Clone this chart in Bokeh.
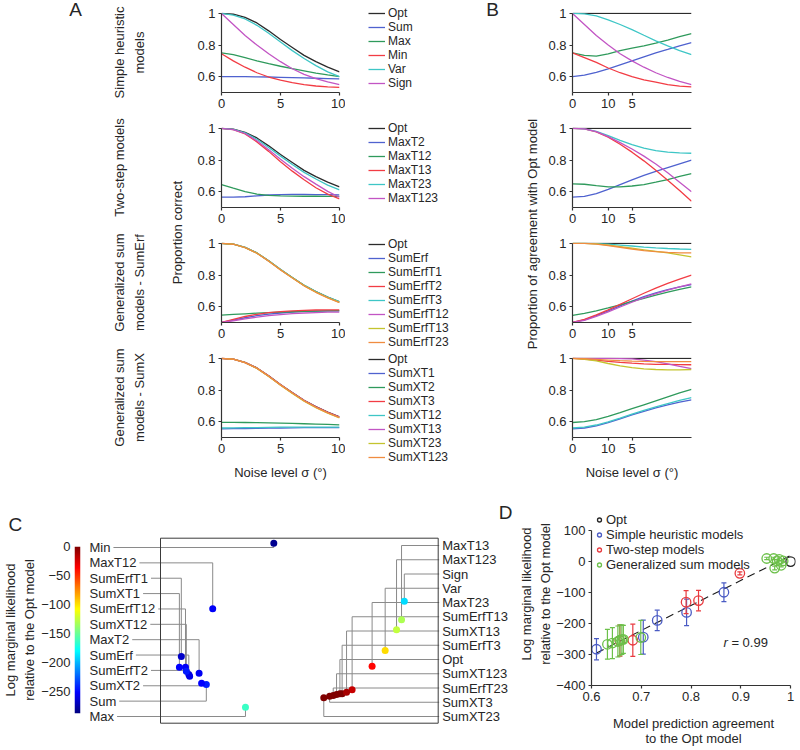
import numpy as np
from bokeh.plotting import figure
from bokeh.layouts import row, column
from bokeh.models import (Range1d, FixedTicker, Legend, LegendItem, ColumnDataSource,
                          LinearColorMapper, Label, BoxAnnotation)
from bokeh.core.properties import value
from bokeh.embed import file_html
from bokeh.resources import INLINE

FONT = "Liberation Sans"
INK = "#262626"
AXC = "#333333"

# ---------------------------------------------------------------- data
NOISE = [0, 1, 2, 3, 4, 5, 6, 7, 8, 9, 10]
Y_TICKS = [0.6, 0.8, 1]
Y_TICK_LABELS = ["0.6", "0.8", "1"]
A_XTICKS = [0, 5, 10]
A_XTICK_LABELS = ["0", "5", "10"]
B_XTICKS = [0, 3, 5]
B_XTICK_LABELS = ["0", "10", "5"]

GROUP_TITLES = ["Simple heuristic\nmodels", "Two-step models",
                "Generalized sum\nmodels - SumErf", "Generalized sum\nmodels - SumX"]
LINE_COLORS = ["#2b2b2b", "#4f62cf", "#2f9a5c", "#f23c44", "#3ec6c6", "#c255c4", "#c4c42e", "#f08c40"]

# proportion correct (panel A)
PC_SIMPLE = {
    "Opt":  [1.000, 0.995, 0.975, 0.940, 0.890, 0.835, 0.785, 0.735, 0.695, 0.660, 0.630],
    "Sum":  [0.600, 0.600, 0.600, 0.599, 0.598, 0.596, 0.594, 0.592, 0.590, 0.588, 0.586],
    "Max":  [0.750, 0.740, 0.720, 0.700, 0.682, 0.666, 0.651, 0.637, 0.623, 0.611, 0.600],
    "Min":  [0.745, 0.700, 0.660, 0.625, 0.598, 0.578, 0.562, 0.550, 0.541, 0.535, 0.532],
    "Var":  [1.000, 0.990, 0.965, 0.925, 0.875, 0.820, 0.765, 0.715, 0.670, 0.630, 0.600],
    "Sign": [1.000, 0.930, 0.860, 0.800, 0.745, 0.695, 0.650, 0.615, 0.588, 0.567, 0.550],
}
PC_TWOSTEP = {
    "Opt":     [1.000, 0.995, 0.975, 0.940, 0.890, 0.835, 0.785, 0.735, 0.695, 0.660, 0.630],
    "MaxT2":   [0.565, 0.565, 0.568, 0.574, 0.579, 0.582, 0.583, 0.583, 0.582, 0.581, 0.580],
    "MaxT12":  [0.645, 0.622, 0.600, 0.585, 0.577, 0.574, 0.572, 0.571, 0.571, 0.570, 0.570],
    "MaxT13":  [1.000, 0.993, 0.965, 0.915, 0.855, 0.790, 0.730, 0.675, 0.625, 0.585, 0.555],
    "MaxT23":  [1.000, 0.994, 0.972, 0.932, 0.880, 0.825, 0.772, 0.722, 0.680, 0.642, 0.612],
    "MaxT123": [1.000, 0.993, 0.968, 0.922, 0.865, 0.805, 0.748, 0.695, 0.648, 0.602, 0.565],
}
PC_SUMERF = {
    "Opt":       [1.000, 0.995, 0.975, 0.940, 0.890, 0.835, 0.785, 0.735, 0.695, 0.660, 0.630],
    "SumErf":    [0.500, 0.515, 0.530, 0.543, 0.553, 0.560, 0.566, 0.570, 0.572, 0.573, 0.573],
    "SumErfT1":  [0.547, 0.551, 0.555, 0.559, 0.562, 0.565, 0.568, 0.570, 0.572, 0.574, 0.575],
    "SumErfT2":  [0.500, 0.520, 0.538, 0.552, 0.562, 0.569, 0.574, 0.577, 0.579, 0.580, 0.580],
    "SumErfT3":  [1.000, 0.995, 0.975, 0.940, 0.890, 0.836, 0.785, 0.736, 0.696, 0.661, 0.632],
    "SumErfT12": [0.500, 0.511, 0.523, 0.534, 0.543, 0.550, 0.556, 0.560, 0.563, 0.565, 0.566],
    "SumErfT13": [1.000, 0.995, 0.974, 0.939, 0.889, 0.834, 0.783, 0.733, 0.692, 0.657, 0.627],
    "SumErfT23": [1.000, 0.995, 0.974, 0.938, 0.888, 0.833, 0.782, 0.732, 0.691, 0.656, 0.626],
}
PC_SUMX = {
    "Opt":      [1.000, 0.995, 0.975, 0.940, 0.890, 0.835, 0.785, 0.735, 0.695, 0.660, 0.630],
    "SumXT1":   [0.555, 0.556, 0.557, 0.558, 0.559, 0.560, 0.561, 0.562, 0.562, 0.563, 0.563],
    "SumXT2":   [0.596, 0.596, 0.595, 0.594, 0.593, 0.591, 0.589, 0.587, 0.585, 0.583, 0.580],
    "SumXT3":   [1.000, 0.995, 0.974, 0.939, 0.889, 0.834, 0.783, 0.734, 0.694, 0.659, 0.629],
    "SumXT12":  [0.560, 0.561, 0.562, 0.563, 0.564, 0.565, 0.565, 0.566, 0.566, 0.566, 0.566],
    "SumXT13":  [1.000, 0.995, 0.974, 0.938, 0.888, 0.833, 0.782, 0.733, 0.693, 0.658, 0.628],
    "SumXT23":  [1.000, 0.995, 0.973, 0.937, 0.886, 0.831, 0.779, 0.730, 0.689, 0.654, 0.624],
    "SumXT123": [1.000, 0.995, 0.974, 0.938, 0.888, 0.833, 0.781, 0.732, 0.691, 0.656, 0.626],
}

# proportion of agreement with Opt (panel B)
AG_SIMPLE = {
    "Opt":  [1.000, 1.000, 1.000, 1.000, 1.000, 1.000, 1.000, 1.000, 1.000, 1.000, 1.000],
    "Sum":  [0.600, 0.610, 0.628, 0.650, 0.675, 0.700, 0.725, 0.750, 0.772, 0.795, 0.815],
    "Max":  [0.750, 0.735, 0.730, 0.745, 0.765, 0.780, 0.795, 0.812, 0.832, 0.853, 0.873],
    "Min":  [0.750, 0.720, 0.690, 0.655, 0.625, 0.600, 0.580, 0.565, 0.550, 0.540, 0.535],
    "Var":  [1.000, 0.997, 0.985, 0.960, 0.930, 0.898, 0.862, 0.827, 0.795, 0.765, 0.740],
    "Sign": [1.000, 0.930, 0.860, 0.800, 0.745, 0.700, 0.660, 0.625, 0.595, 0.570, 0.550],
}
AG_TWOSTEP = {
    "Opt":     [1.000, 1.000, 1.000, 1.000, 1.000, 1.000, 1.000, 1.000, 1.000, 1.000, 1.000],
    "MaxT2":   [0.565, 0.570, 0.588, 0.615, 0.645, 0.675, 0.703, 0.728, 0.752, 0.776, 0.800],
    "MaxT12":  [0.650, 0.647, 0.638, 0.630, 0.630, 0.636, 0.645, 0.660, 0.677, 0.697, 0.715],
    "MaxT13":  [1.000, 0.997, 0.978, 0.945, 0.900, 0.850, 0.795, 0.735, 0.672, 0.607, 0.540],
    "MaxT23":  [1.000, 0.997, 0.982, 0.955, 0.925, 0.898, 0.875, 0.860, 0.850, 0.845, 0.843],
    "MaxT123": [1.000, 0.997, 0.980, 0.948, 0.910, 0.870, 0.825, 0.775, 0.720, 0.660, 0.600],
}
AG_SUMERF = {
    "Opt":       [1.000, 1.000, 1.000, 1.000, 1.000, 1.000, 1.000, 1.000, 1.000, 1.000, 1.000],
    "SumErf":    [0.500, 0.517, 0.543, 0.573, 0.605, 0.635, 0.663, 0.688, 0.708, 0.725, 0.740],
    "SumErfT1":  [0.545, 0.558, 0.573, 0.592, 0.612, 0.633, 0.653, 0.673, 0.692, 0.709, 0.725],
    "SumErfT2":  [0.500, 0.520, 0.548, 0.580, 0.615, 0.650, 0.685, 0.718, 0.748, 0.775, 0.800],
    "SumErfT3":  [1.000, 1.000, 0.999, 0.996, 0.990, 0.984, 0.977, 0.972, 0.968, 0.965, 0.963],
    "SumErfT12": [0.500, 0.514, 0.538, 0.567, 0.598, 0.628, 0.657, 0.683, 0.705, 0.726, 0.745],
    "SumErfT13": [1.000, 1.000, 0.997, 0.990, 0.980, 0.970, 0.960, 0.950, 0.940, 0.928, 0.915],
    "SumErfT23": [1.000, 1.000, 0.996, 0.987, 0.976, 0.965, 0.955, 0.948, 0.943, 0.940, 0.940],
}
AG_SUMX = {
    "Opt":      [1.000, 1.000, 1.000, 1.000, 1.000, 1.000, 1.000, 1.000, 1.000, 1.000, 1.000],
    "SumXT1":   [0.555, 0.560, 0.574, 0.594, 0.618, 0.643, 0.666, 0.688, 0.707, 0.724, 0.738],
    "SumXT2":   [0.595, 0.600, 0.613, 0.633, 0.657, 0.682, 0.707, 0.732, 0.757, 0.782, 0.805],
    "SumXT3":   [1.000, 0.996, 0.990, 0.982, 0.975, 0.970, 0.966, 0.963, 0.962, 0.961, 0.960],
    "SumXT12":  [0.560, 0.565, 0.579, 0.599, 0.623, 0.648, 0.672, 0.694, 0.715, 0.735, 0.752],
    "SumXT13":  [1.000, 1.000, 1.000, 1.000, 0.999, 0.997, 0.990, 0.980, 0.966, 0.950, 0.935],
    "SumXT23":  [1.000, 0.995, 0.984, 0.968, 0.953, 0.942, 0.934, 0.930, 0.928, 0.928, 0.930],
    "SumXT123": [1.000, 0.998, 0.994, 0.990, 0.986, 0.983, 0.981, 0.980, 0.980, 0.980, 0.980],
}

# model table (panels C and D)
MODELS = ["Opt", "Sum", "Max", "Min", "Var", "Sign",
          "MaxT2", "MaxT12", "MaxT13", "MaxT23", "MaxT123",
          "SumErf", "SumErfT1", "SumErfT2", "SumErfT3", "SumErfT12", "SumErfT13", "SumErfT23",
          "SumXT1", "SumXT2", "SumXT3", "SumXT12", "SumXT13", "SumXT23", "SumXT123"]
MODEL_GROUP = ["O", "S", "S", "S", "S", "S",
               "T", "T", "T", "T", "T",
               "G", "G", "G", "G", "G", "G", "G",
               "G", "G", "G", "G", "G", "G", "G"]
AGREEMENT = [1.000, 0.704, 0.791, 0.610, 0.866, 0.732,
             0.657, 0.683, 0.790, 0.898, 0.815,
             0.642, 0.632, 0.653, 0.952, 0.657, 0.968, 0.977,
             0.661, 0.664, 0.985, 0.699, 0.981, 0.973, 0.966]
LOG_ML = [0, -244, -164, -283, -99, -190,
          -255, -254, -131, -38, -126,
          -263, -267, -258, 10, -254, -21, 7,
          -252, -251, 2, -245, -12, 2, 10]
LOG_ML_ERR = [0, 55, 43, 34, 30, 33,
              50, 52, 37, 5, 33,
              50, 48, 50, 4, 50, 6, 4,
              48, 45, 4, 55, 5, 4, 4]
EMBED_X = [64.6, 16.5, 30.6, 40.8, 80.9, 87.8,
           13.9, 18.8, 86.8, 76.2, 85.0,
           10.2, 7.5, 10.5, 65.4, 9.0, 69.0, 62.2,
           6.8, 14.8, 60.9, 9.3, 67.0, 58.8, 63.4]
EMBED_Y = [15.9, 20.9, 8.6, 97.3, 39.3, 65.9,
           27.0, 61.8, 55.9, 30.8, 50.5,
           26.3, 36.1, 25.4, 15.9, 30.2, 18.1, 15.0,
           30.2, 21.6, 14.6, 28.1, 16.7, 13.7, 15.5]
C_LEFT_ORDER = ["Min", "MaxT12", "SumErfT1", "SumXT1", "SumErfT12", "SumXT12", "MaxT2",
                "SumErf", "SumErfT2", "SumXT2", "Sum", "Max"]
C_RIGHT_ORDER = ["MaxT13", "MaxT123", "Sign", "Var", "MaxT23", "SumErfT13", "SumXT13",
                 "SumErfT3", "Opt", "SumXT123", "SumErfT23", "SumXT3", "SumXT23"]
CB_TICKS = [0, -50, -100, -150, -200, -250]
CB_TICK_LABELS = ["0", "\u221250", "\u2212100", "\u2212150", "\u2212200", "\u2212250"]
CB_LOW, CB_HIGH = -288, 0

D_GROUPS = ["O", "S", "T", "G"]
D_GROUP_LABELS = ["Opt", "Simple heuristic models", "Two-step models", "Generalized sum models"]
D_GROUP_COLORS = ["#262626", "#4a5bc4", "#e83a3f", "#6cc04a"]
D_XTICKS = [0.6, 0.7, 0.8, 0.9, 1]
D_XTICK_LABELS = ["0.6", "0.7", "0.8", "0.9", "1"]
D_YTICKS = [100, 0, -100, -200, -300, -400]
D_YTICK_LABELS = ["100", "0", "\u2212100", "\u2212200", "\u2212300", "\u2212400"]


# ---------------------------------------------------------------- helpers
def jet_hex(t):
    r = min(1.0, max(0.0, 1.5 - abs(4 * t - 3)))
    g = min(1.0, max(0.0, 1.5 - abs(4 * t - 2)))
    b = min(1.0, max(0.0, 1.5 - abs(4 * t - 1)))
    return "#%02x%02x%02x" % (round(r * 255), round(g * 255), round(b * 255))


JET = [jet_hex(i / 255) for i in range(256)]


def base_fig(width, height, x_range, y_range, bl=0, br=0, bt=0, bb=0, axes=True):
    kw = dict(width=width, height=height, x_range=x_range, y_range=y_range,
              output_backend="svg", toolbar_location=None,
              min_border_left=bl, min_border_right=br, min_border_top=bt, min_border_bottom=bb)
    if not axes:
        kw.update(x_axis_location=None, y_axis_location=None)
    p = figure(**kw)
    p.xgrid.visible = False
    p.ygrid.visible = False
    p.outline_line_color = None
    return p


def style_axis(ax, ticks, labels):
    ax.ticker = FixedTicker(ticks=ticks)
    ax.major_label_overrides = dict(zip(ticks, labels))
    ax.axis_line_color = AXC
    ax.axis_line_width = 1.2
    ax.major_tick_line_color = AXC
    ax.major_tick_line_width = 1.2
    ax.major_tick_out = 3
    ax.major_tick_in = 0
    ax.minor_tick_line_color = None
    ax.major_label_standoff = 3
    ax.major_label_text_font = FONT
    ax.major_label_text_font_size = "13px"
    ax.major_label_text_color = INK
    ax.axis_label_text_font = FONT
    ax.axis_label_text_font_size = "13px"
    ax.axis_label_text_color = INK
    ax.axis_label_text_font_style = "normal"
    ax.axis_label_text_line_height = 1.3


def add_text(p, x, y, text, size="13px", angle=0.0, align="center", baseline="middle",
             style="normal", line_height=1.3):
    p.text(x=[x], y=[y], text=[text], angle=angle, text_align=align, text_baseline=baseline,
           text_font=value(FONT), text_font_size=value(size), text_color=INK,
           text_font_style=style, text_line_height=line_height)


def make_legend(items, location, pitch, glyph_width, font_size):
    return Legend(items=items, location=location, orientation="vertical", spacing=0,
                  padding=0, margin=0, glyph_width=glyph_width, glyph_height=pitch,
                  label_height=pitch, label_standoff=3 if glyph_width > 12 else 2,
                  border_line_color=None, background_fill_alpha=0, label_text_font=FONT,
                  label_text_font_size=font_size, label_text_color=INK)


# ---------------------------------------------------------------- panels A & B
SUB_FH = 80
SUB_BT = [12, 8, 8, 8]
SUB_H = [119, 115, 115, 139]
TOP_H = sum(SUB_H)
LEGA_PITCH = 14.1      # effective row height of a 12px legend label
LEGD_PITCH = 15.3      # effective row height of a 13px legend label


def curve_panel(k, names, data, width, bl, br, xticks, xlabels):
    h = SUB_H[k]
    bt = SUB_BT[k]
    p = base_fig(width, h, Range1d(0, 10), Range1d(0.5, 1.006),
                 bl=bl, br=br, bt=bt, bb=h - bt - SUB_FH)
    style_axis(p.yaxis[0], Y_TICKS, Y_TICK_LABELS)
    style_axis(p.xaxis[0], xticks, xlabels)
    p.yaxis[0].bounds = (0.5, 1.0)
    p.xaxis[0].bounds = (0, 10)
    if k == 3:
        p.xaxis[0].axis_label = "Noise level \u03c3 (\u00b0)"
        p.xaxis[0].axis_label_standoff = 9
    for i, name in enumerate(names):
        p.line(NOISE, data[name], line_color=LINE_COLORS[i], line_width=1.3)
    return p


PC_SETS = [PC_SIMPLE, PC_TWOSTEP, PC_SUMERF, PC_SUMX]
AG_SETS = [AG_SIMPLE, AG_TWOSTEP, AG_SUMERF, AG_SUMX]

colA = column([curve_panel(k, list(PC_SETS[k].keys()), PC_SETS[k], 155, 31, 6,
                           A_XTICKS, A_XTICK_LABELS) for k in range(4)], spacing=0)
colB = column([curve_panel(k, list(AG_SETS[k].keys()), AG_SETS[k], 160, 31, 10,
                           B_XTICKS, B_XTICK_LABELS) for k in range(4)], spacing=0)

# legends of panel A (own canvas to the right of the A plots)
LEGA_W = 135
pLegA = base_fig(LEGA_W, TOP_H, Range1d(0, 1), Range1d(0, 1), axes=False)
top = 0
for k in range(4):
    names = list(PC_SETS[k].keys())
    items = []
    for i, name in enumerate(names):
        src = ColumnDataSource(dict(x=[np.nan], y=[np.nan]))
        r = pLegA.line("x", "y", source=src, line_color=LINE_COLORS[i], line_width=1.3)
        items.append(LegendItem(label=name, renderers=[r]))
    one_line = top + SUB_BT[k] + SUB_FH * (1.006 - 1.0) / 0.506
    leg_top = one_line - LEGA_PITCH / 2
    loc = (23, TOP_H - leg_top - LEGA_PITCH * len(items))
    pLegA.add_layout(make_legend(items, loc, 14, 17, "12px"))
    top += SUB_H[k]

LA_W, LB_W = 190, 61
pLA = base_fig(LA_W, TOP_H, Range1d(0, LA_W), Range1d(TOP_H, 0), axes=False)
add_text(pLA, 75, 9, "A", size="19px")
top = 0
for k, title in enumerate(GROUP_TITLES):
    yc = top + SUB_BT[k] + SUB_FH / 2
    top += SUB_H[k]
    add_text(pLA, 111.5, yc, title, angle=np.pi / 2, baseline="top")
add_text(pLA, 176.7, 232, "Proportion correct", angle=np.pi / 2)

pLB = base_fig(LB_W, TOP_H, Range1d(0, LB_W), Range1d(TOP_H, 0), axes=False)
add_text(pLB, 12, 9, "B", size="19px")
add_text(pLB, 52, 233.5, "Proportion of agreement with Opt model", angle=np.pi / 2)

top_row = row([column([pLA]), colA, column([pLegA]), column([pLB]), colB], spacing=0)

# ---------------------------------------------------------------- panel C (colour bar)
BOT_H = 261
mapper = LinearColorMapper(palette=JET, low=CB_LOW, high=CB_HIGH)
pCB = base_fig(84, BOT_H, Range1d(0, 1), Range1d(CB_LOW, CB_HIGH), bl=69, br=4, bt=58,
               bb=BOT_H - 58 - 167)
pCB.xaxis.visible = False
grad = np.linspace(CB_LOW, CB_HIGH, 256).reshape(-1, 1)
pCB.image(image=[grad], x=0, y=CB_LOW, dw=1, dh=CB_HIGH - CB_LOW, color_mapper=mapper)
style_axis(pCB.yaxis[0], CB_TICKS, CB_TICK_LABELS)
pCB.yaxis[0].axis_line_color = None
pCB.yaxis[0].major_tick_line_color = None
pCB.yaxis[0].major_tick_out = 0
pCB.yaxis[0].major_label_standoff = 4
pCB.yaxis[0].axis_label = "Log marginal likelihood\nrelative to the Opt model"
pCB.yaxis[0].axis_label_standoff = 1
pCB.yaxis[0].axis_label_text_line_height = 1.25
pCB.title.text = "C"
pCB.title.align = "left"
pCB.title.offset = -66
pCB.title.standoff = 23
pCB.title.text_font = FONT
pCB.title.text_font_size = "19px"
pCB.title.text_font_style = "normal"
pCB.title.text_color = INK

# ---------------------------------------------------------------- panel C (embedding)
C_W = 431
BOX_L, BOX_T, BOX_WPX, BOX_HPX = 76.0, 49.7, 277.7, 185.0
UX = BOX_WPX / 100.0
UY = BOX_HPX / 100.0


def cx(px):
    return (px - BOX_L) / UX


def cy(py):
    return (BOX_T + BOX_HPX - py) / UY


pC = base_fig(C_W, BOT_H, Range1d(cx(0), cx(C_W)), Range1d(cy(BOT_H), cy(0)), axes=False)
pC.add_layout(BoxAnnotation(left=0, right=100, bottom=0, top=100, fill_color=None,
                            line_color="#3a3a3a", line_width=1, line_alpha=1))

CHAR_W = {'M': 833, 'i': 222, 'n': 556, 'a': 556, 'x': 500, 'T': 611, 'S': 667, 'u': 556,
          'm': 833, 'E': 667, 'r': 333, 'f': 278, 'X': 667, 'V': 667, 'O': 778, 'p': 556,
          't': 278, 'g': 556}


def text_w(s, size=13):
    return sum(CHAR_W.get(c, 556) for c in s) * size / 1000.0


idx = {m: i for i, m in enumerate(MODELS)}
lead_xs, lead_ys = [], []
lab_x, lab_y, lab_t = [], [], []
nL, nR = len(C_LEFT_ORDER), len(C_RIGHT_ORDER)
LEFT_X, RIGHT_X = 5.0, 357.7
for j, name in enumerate(C_LEFT_ORDER):
    ly = cy(59 + j * (228 - 59) / (nL - 1))
    i = idx[name]
    x0 = cx(LEFT_X + text_w(name) + 3)
    lead_xs.append([x0, EMBED_X[i], EMBED_X[i]])
    lead_ys.append([ly, ly, EMBED_Y[i]])
    lab_x.append(cx(LEFT_X)); lab_y.append(ly); lab_t.append(name)
for j, name in enumerate(C_RIGHT_ORDER):
    ly = cy(57 + j * (228 - 57) / (nR - 1))
    i = idx[name]
    x0 = cx(RIGHT_X - 3)
    lead_xs.append([x0, EMBED_X[i], EMBED_X[i]])
    lead_ys.append([ly, ly, EMBED_Y[i]])
    lab_x.append(cx(RIGHT_X)); lab_y.append(ly); lab_t.append(name)

pC.multi_line(xs=lead_xs, ys=lead_ys, line_color="#8a8a8a", line_width=1)
srcC = ColumnDataSource(dict(x=EMBED_X, y=EMBED_Y, ll=LOG_ML))
pC.scatter("x", "y", source=srcC, size=7, line_color=None,
           fill_color={"field": "ll", "transform": mapper})
pC.text(x=lab_x, y=lab_y, text=lab_t, text_align="left", text_baseline="middle",
        text_font=value(FONT), text_font_size=value("13px"), text_color=INK)
add_text(pC, cx(421), cy(24), "D", size="19px")

# ---------------------------------------------------------------- panel D
D_BT, D_FH = 14, 185
D_PX_PER_100 = 31.32
pD = base_fig(283, BOT_H, Range1d(0.6, 1.0098), Range1d(-400, -400 + D_FH / D_PX_PER_100 * 100),
              bl=72, br=3, bt=D_BT, bb=BOT_H - D_BT - D_FH)
style_axis(pD.xaxis[0], D_XTICKS, D_XTICK_LABELS)
style_axis(pD.yaxis[0], D_YTICKS, D_YTICK_LABELS)
pD.xaxis[0].bounds = (0.6, 1.0)
pD.yaxis[0].bounds = (-400, 100)
pD.xaxis[0].axis_label = "Model prediction agreement\nto the Opt model"
pD.xaxis[0].axis_label_standoff = 12
pD.xaxis[0].axis_label_text_line_height = 1.05
pD.yaxis[0].axis_label = "Log marginal likelihood\nrelative to the Opt model"
pD.yaxis[0].axis_label_standoff = 0

coef = np.polyfit(AGREEMENT, LOG_ML, 1)
fx = np.array([min(AGREEMENT), max(AGREEMENT)])
pD.line(fx, np.polyval(coef, fx), line_color="#1a1a1a", line_width=1.1, line_dash="8 5")

itemsD = []
for g, lab, col in zip(D_GROUPS, D_GROUP_LABELS, D_GROUP_COLORS):
    sel = [i for i, gg in enumerate(MODEL_GROUP) if gg == g]
    xs = [AGREEMENT[i] for i in sel]
    ys = [LOG_ML[i] for i in sel]
    es = [LOG_ML_ERR[i] for i in sel]
    src = ColumnDataSource(dict(x=xs, y=ys, lo=[a - b for a, b in zip(ys, es)],
                                hi=[a + b for a, b in zip(ys, es)]))
    if g != "O":
        pD.segment(x0="x", y0="lo", x1="x", y1="hi", source=src, line_color=col, line_width=1.2)
        pD.scatter("x", "lo", source=src, marker="dash", size=5, line_color=col, line_width=1.2)
        pD.scatter("x", "hi", source=src, marker="dash", size=5, line_color=col, line_width=1.2)
    r = pD.scatter("x", "y", source=src, marker="circle", size=9.5, fill_color=None,
                   line_color=col, line_width=1.3)
    itemsD.append(LegendItem(label=lab, renderers=[r]))
# legend block centred where the reference places it (rows ~523..563 px)
legD_top = 543 - 488 - D_BT - 2 * LEGD_PITCH
pD.add_layout(make_legend(itemsD, (3, D_FH - legD_top - 4 * LEGD_PITCH), 13, 10, "13px"))
pD.add_layout(Label(x=0.865, y=-260, text="r", text_font=FONT, text_font_size="13px",
                    text_font_style="italic", text_color=INK, text_baseline="middle"))
pD.add_layout(Label(x=0.865, y=-260, x_offset=8, text="= 0.99", text_font=FONT,
                    text_font_size="13px", text_color=INK, text_baseline="middle"))

bottom_row = row([column([pCB]), column([pC]), column([pD])], spacing=0)
layout = column([top_row, bottom_row], spacing=0)

open("out.html", "w").write(file_html(layout, INLINE))
